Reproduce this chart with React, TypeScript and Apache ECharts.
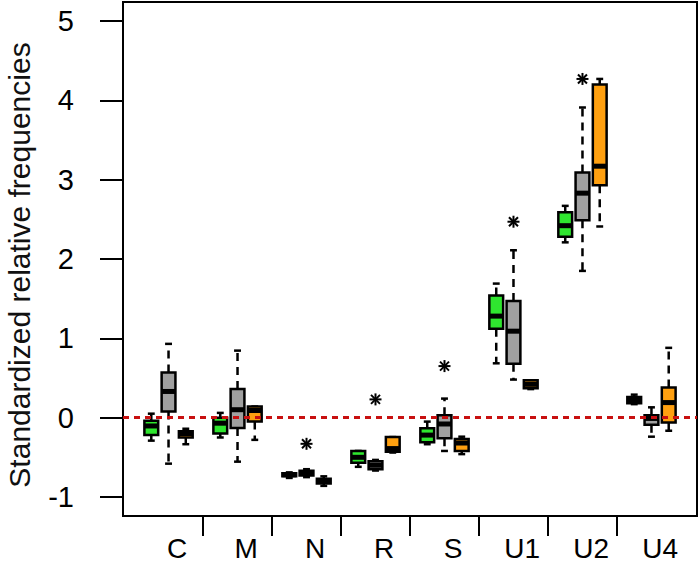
import React, { useEffect, useRef } from "react";
import * as echarts from "echarts";

const categories = ["C", "M", "N", "R", "S", "U1", "U2", "U4"];
// [lower whisker, Q1, median, Q3, upper whisker]
const greenStats = [
  [-0.29, -0.22, -0.105, -0.04, 0.05],
  [-0.25, -0.2, -0.07, 0.0, 0.06],
  [-0.76, -0.74, -0.72, -0.7, -0.69],
  [-0.62, -0.57, -0.5, -0.42, -0.42],
  [-0.335, -0.31, -0.22, -0.135, -0.05],
  [0.685, 1.12, 1.28, 1.54, 1.69],
  [2.21, 2.28, 2.42, 2.59, 2.67],
  [0.17, 0.18, 0.22, 0.26, 0.29],
];
const grayStats = [
  [-0.58, 0.076, 0.33, 0.57, 0.93],
  [-0.555, -0.13, 0.1, 0.36, 0.845],
  [-0.75, -0.73, -0.7, -0.67, -0.65],
  [-0.667, -0.65, -0.6, -0.55, -0.533],
  [-0.42, -0.26, -0.08, 0.03, 0.24],
  [0.48, 0.68, 1.09, 1.47, 2.11],
  [1.85, 2.49, 2.83, 3.09, 3.91],
  [-0.24, -0.09, -0.01, 0.03, 0.13],
];
const orangeStats = [
  [-0.335, -0.25, -0.2, -0.17, -0.14],
  [-0.28, -0.05, 0.09, 0.14, 0.14],
  [-0.86, -0.83, -0.8, -0.77, -0.74],
  [-0.44, -0.43, -0.39, -0.245, -0.245],
  [-0.46, -0.42, -0.32, -0.27, -0.24],
  [0.36, 0.37, 0.42, 0.47, 0.47],
  [2.41, 2.93, 3.17, 4.2, 4.27],
  [-0.165, -0.06, 0.19, 0.38, 0.88],
];
// outliers (all from the gray series)
const outlierCategories = ["N", "R", "S", "U1", "U2"];
const outlierValues = [-0.33, 0.23, 0.65, 2.47, 4.27];
const yTicks = [-1, 0, 1, 2, 3, 4, 5];
const yTitle = "Standardized relative frequencies";

const FONT = "Liberation Sans, Arial, sans-serif";
const seriesColors = ["#2FE62F", "#A0A0A0", "#FFA010"];

function boxRender(color: string) {
  return (params: any, api: any) => {
    const x = api.value(0);
    const lo = api.coord([x, api.value(1)]);
    const q1 = api.coord([x, api.value(2)]);
    const med = api.coord([x, api.value(3)]);
    const q3 = api.coord([x, api.value(4)]);
    const hi = api.coord([x, api.value(5)]);
    const w = api.size([0.8, 0])[0];
    const cx = q1[0];
    const half = w / 2;
    const st = w / 4;
    const black = "#000";
    return {
      type: "group",
      children: [
        {
          type: "line",
          shape: { x1: cx, y1: q3[1], x2: cx, y2: hi[1] },
          style: { stroke: black, lineWidth: 2.5, lineDash: [8, 6] },
        },
        {
          type: "line",
          shape: { x1: cx, y1: q1[1], x2: cx, y2: lo[1] },
          style: { stroke: black, lineWidth: 2.5, lineDash: [8, 6] },
        },
        {
          type: "line",
          shape: { x1: cx - st, y1: hi[1], x2: cx + st, y2: hi[1] },
          style: { stroke: black, lineWidth: 2.5 },
        },
        {
          type: "line",
          shape: { x1: cx - st, y1: lo[1], x2: cx + st, y2: lo[1] },
          style: { stroke: black, lineWidth: 2.5 },
        },
        {
          type: "rect",
          shape: { x: cx - half, y: q3[1], width: w, height: q1[1] - q3[1] },
          style: { fill: color, stroke: black, lineWidth: 2.5 },
        },
        {
          type: "line",
          shape: { x1: cx - half, y1: med[1], x2: cx + half, y2: med[1] },
          style: { stroke: black, lineWidth: 5 },
        },
      ],
    };
  };
}

function starRender(params: any, api: any) {
  const p = api.coord([api.value(0), api.value(1)]);
  const r = 6;
  const d = r * 0.75;
  const s = { stroke: "#000", lineWidth: 2 };
  return {
    type: "group",
    children: [
      { type: "line", shape: { x1: p[0] - r, y1: p[1], x2: p[0] + r, y2: p[1] }, style: s },
      { type: "line", shape: { x1: p[0], y1: p[1] - r, x2: p[0], y2: p[1] + r }, style: s },
      { type: "line", shape: { x1: p[0] - d, y1: p[1] - d, x2: p[0] + d, y2: p[1] + d }, style: s },
      { type: "line", shape: { x1: p[0] - d, y1: p[1] + d, x2: p[0] + d, y2: p[1] - d }, style: s },
    ],
  };
}

export default function App() {
  const ref = useRef<HTMLDivElement>(null);
  useEffect(() => {
    if (!ref.current) return;
    const chart = echarts.init(ref.current, null, { renderer: "svg" });
    const allStats = [greenStats, grayStats, orangeStats];
    const boxSeries = allStats.map((stats, k) => ({
      type: "custom",
      renderItem: boxRender(seriesColors[k]),
      encode: { x: 0, y: [1, 2, 3, 4, 5] },
      data: stats.map((s, i) => [i * 4 + k + 1, ...s]),
      z: 2,
      clip: false,
    }));
    const outlierData = outlierCategories.map((c, j) => [
      categories.indexOf(c) * 4 + 2,
      outlierValues[j],
    ]);
    const tickPos = categories.slice(1).map((_, i) => (i + 1) * 4);
    const labelPos = categories.map((_, i) => i * 4 + 2.5);
    chart.setOption({
      animation: false,
      grid: {
        left: 123,
        right: 3,
        top: 2,
        bottom: 50,
        show: true,
        borderColor: "#000",
        borderWidth: 2,
        containLabel: false,
        outerBoundsMode: "none",
      },
      xAxis: {
        type: "value",
        min: -0.64,
        max: 32.64,
        axisLine: { show: false, onZero: false },
        splitLine: { show: false },
        axisTick: {
          show: true,
          customValues: tickPos,
          length: 20,
          lineStyle: { color: "#000", width: 2 },
        },
        axisLabel: {
          customValues: labelPos,
          margin: 18,
          color: "#000",
          fontSize: 28,
          fontFamily: FONT,
          formatter: (v: number) => categories[Math.round((v - 2.5) / 4)] ?? "",
        },
      },
      yAxis: {
        type: "value",
        min: -1.24,
        max: 5.24,
        axisLine: { show: false, onZero: false },
        splitLine: { show: false },
        axisTick: {
          show: true,
          customValues: yTicks,
          length: 23,
          lineStyle: { color: "#000", width: 2 },
        },
        axisLabel: {
          customValues: yTicks,
          margin: 49,
          color: "#000",
          fontSize: 29,
          fontFamily: FONT,
        },
      },
      graphic: [
        {
          type: "text",
          x: 19,
          y: 265,
          rotation: Math.PI / 2,
          style: {
            text: yTitle,
            fontSize: 30,
            fontFamily: FONT,
            fill: "#111",
            align: "center",
            verticalAlign: "middle",
          },
        },
      ],
      series: [
        ...boxSeries,
        {
          type: "custom",
          renderItem: starRender,
          encode: { x: 0, y: 1 },
          data: outlierData,
          z: 3,
        },
        {
          type: "line",
          data: [],
          z: 10,
          markLine: {
            silent: true,
            symbol: ["none", "none"],
            label: { show: false },
            lineStyle: { color: "#C81010", type: [6, 5], width: 3 },
            data: [{ yAxis: 0 }],
          },
        },
      ],
    } as any);
    return () => chart.dispose();
  }, []);
  return (
    <div
      ref={ref}
      style={{ position: "fixed", left: 0, top: 0, width: 700, height: 566, background: "#fff" }}
    />
  );
}
